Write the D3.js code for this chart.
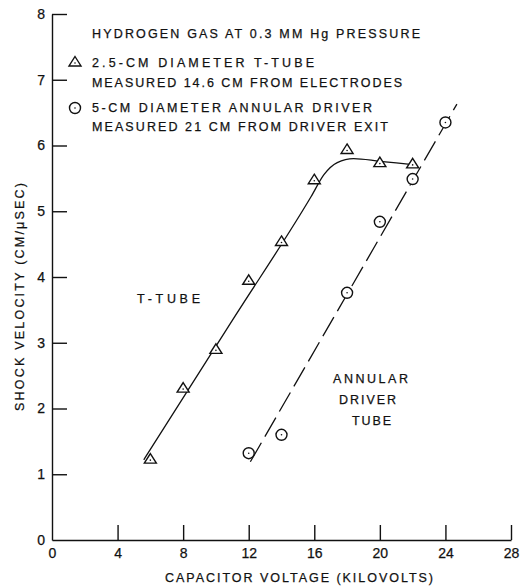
<!DOCTYPE html>
<html>
<head>
<meta charset="utf-8">
<script src="https://cdn.jsdelivr.net/npm/d3@7"></script>
<style>
  body { margin: 0; background: #fff; }
  text { font-family: "Liberation Sans", Arial, sans-serif; fill: #111; stroke: #111; stroke-width: 0.25; }
  .axis path, .axis line { stroke: #111; stroke-width: 1.4; }
  .axis text { font-size: 14px; }
</style>
</head>
<body>
<div id="chart"></div>
<script>
// T-tube measurements (kV, cm/usec)
const tTubeVoltage = [6, 8, 10, 12, 14, 16, 18, 20, 22];
const tTubeVelocity = [1.23, 2.31, 2.9, 3.95, 4.54, 5.48, 5.94, 5.74, 5.72];

// annular driver measurements
const annularVoltage = [12, 14, 18, 20, 22, 24];
const annularVelocity = [1.32, 1.6, 3.76, 4.84, 5.49, 6.35];

// faired curves drawn through the points
const tTubeFit = [[5.6, 1.22], [11, 3.34], [15.8, 5.22], [16.6, 5.56], [17.4, 5.74], [18.4, 5.8], [20, 5.76], [22, 5.71]];
const annularFit = [[12.1, 1.19], [24.7, 6.63]];

const xTicks = [0, 4, 8, 12, 16, 20, 24, 28];
const yTicks = [0, 1, 2, 3, 4, 5, 6, 7, 8];

const legendLines = [
  { text: "HYDROGEN GAS AT 0.3 MM Hg PRESSURE", y: 38, len: 328 },
  { text: "2.5-CM DIAMETER T-TUBE", y: 67, len: 222, mark: "tri" },
  { text: "MEASURED 14.6 CM FROM ELECTRODES", y: 87, len: 310 },
  { text: "5-CM DIAMETER ANNULAR DRIVER", y: 112, len: 280, mark: "circ" },
  { text: "MEASURED 21 CM FROM DRIVER EXIT", y: 131, len: 296 }
];

const width = 526, height = 588;
const svg = d3.select("#chart").append("svg")
  .attr("width", width).attr("height", height);

const x = d3.scaleLinear().domain([0, 28]).range([52, 511]);
const y = d3.scaleLinear().domain([0, 8]).range([540, 14]);

const xAxis = d3.axisBottom(x).tickValues(xTicks)
  .tickSizeInner(-15).tickSizeOuter(0).tickPadding(6).tickFormat(d3.format("d"));
const yAxis = d3.axisLeft(y).tickValues(yTicks)
  .tickSizeInner(-15).tickSizeOuter(0).tickPadding(7).tickFormat(d3.format("d"));

const gx = svg.append("g").attr("class", "axis")
  .attr("transform", `translate(0,${y(0)})`).call(xAxis);
gx.selectAll(".tick").filter(d => d === 0).select("line").remove();
gx.selectAll("text").attr("dy", "0.85em");

const gy = svg.append("g").attr("class", "axis")
  .attr("transform", `translate(${x(0)},0)`).call(yAxis);
gy.selectAll(".tick").filter(d => d === 0).select("line").remove();

svg.append("text")
  .attr("x", 299).attr("y", 582)
  .attr("text-anchor", "middle")
  .attr("font-size", 12.5)
  .attr("textLength", 268).attr("lengthAdjust", "spacing")
  .text("CAPACITOR VOLTAGE (KILOVOLTS)");

svg.append("text")
  .attr("transform", "translate(24,297) rotate(-90)")
  .attr("text-anchor", "middle")
  .attr("font-size", 12.5)
  .attr("textLength", 228).attr("lengthAdjust", "spacing")
  .text("SHOCK VELOCITY (CM/\u03bcSEC)");

// fitted curves
const line = d3.line().x(d => x(d[0])).y(d => y(d[1]));
svg.append("path")
  .datum(tTubeFit)
  .attr("d", line.curve(d3.curveMonotoneX))
  .attr("fill", "none").attr("stroke", "#111").attr("stroke-width", 1.3);

svg.append("path")
  .datum(annularFit)
  .attr("d", d3.line().x(d => x(d[0])).y(d => y(d[1])))
  .attr("fill", "none").attr("stroke", "#111").attr("stroke-width", 1.3)
  .attr("stroke-dasharray", "22,7");

// markers
const triPath = "M0,-5.5L6,4L-6,4Z";
function drawTri(g, cx, cy) {
  g.append("path").attr("d", triPath)
    .attr("transform", `translate(${cx},${cy})`)
    .attr("fill", "#fff").attr("stroke", "#111").attr("stroke-width", 1.4);
  g.append("circle").attr("cx", cx).attr("cy", cy + 1).attr("r", 0.8).attr("fill", "#111");
}
function drawCirc(g, cx, cy) {
  g.append("circle").attr("cx", cx).attr("cy", cy).attr("r", 5.5)
    .attr("fill", "#fff").attr("stroke", "#111").attr("stroke-width", 1.4);
  g.append("circle").attr("cx", cx).attr("cy", cy).attr("r", 0.8).attr("fill", "#111");
}

const marks = svg.append("g");
tTubeVoltage.forEach((v, i) => drawTri(marks, x(v), y(tTubeVelocity[i])));
annularVoltage.forEach((v, i) => drawCirc(marks, x(v), y(annularVelocity[i])));

// legend block
const leg = svg.append("g");
legendLines.forEach(l => {
  leg.append("text")
    .attr("x", 92).attr("y", l.y)
    .attr("font-size", 12.5)
    .attr("textLength", l.len).attr("lengthAdjust", "spacing")
    .text(l.text);
  if (l.mark === "tri") drawTri(leg, 75, l.y - 5);
  if (l.mark === "circ") drawCirc(leg, 75, l.y - 4);
});

// curve labels
const curveLabels = [
  { text: "T-TUBE", x: 137, y: 303, len: 63 },
  { text: "ANNULAR", x: 333, y: 383, len: 75 },
  { text: "DRIVER", x: 339, y: 404, len: 57 },
  { text: "TUBE", x: 352, y: 425, len: 39 }
];
curveLabels.forEach(l => {
  svg.append("text")
    .attr("x", l.x).attr("y", l.y)
    .attr("font-size", 12.5)
    .attr("textLength", l.len).attr("lengthAdjust", "spacing")
    .text(l.text);
});
</script>
</body>
</html>
